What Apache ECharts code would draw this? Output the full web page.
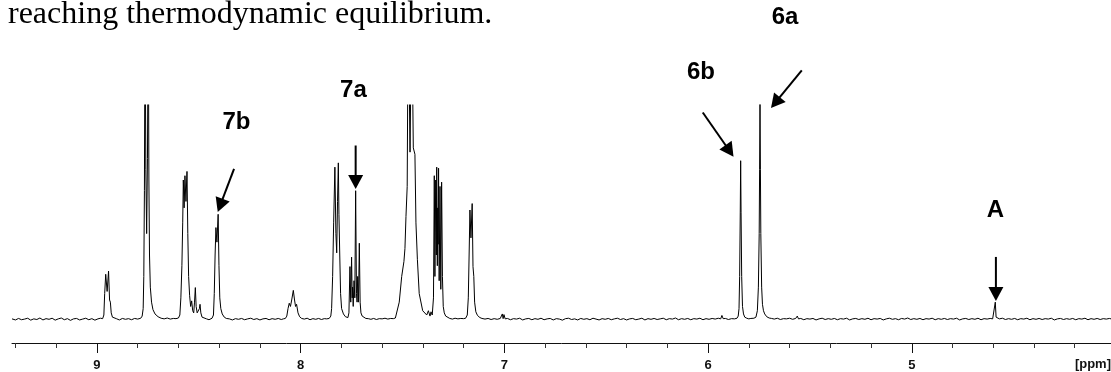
<!DOCTYPE html>
<html>
<head>
<meta charset="utf-8">
<script src="https://cdn.jsdelivr.net/npm/echarts@6/dist/echarts.min.js"></script>
<style>html,body{margin:0;padding:0;background:#fff;}#c{width:1111px;height:372px;}</style>
</head>
<body>
<div id="c"></div>
<script>
// ---- data: [ppm, intensity (% of plot height, baseline = 0)] ----
const base1 = [[9.417,0.2],[9.400,-0.3],[9.385,0.4],[9.370,-0.2],[9.355,0.1],[9.340,0.5],[9.325,-0.4],[9.310,0.2],[9.295,-0.1],[9.280,0.6],[9.265,-0.3],[9.250,0.3],[9.235,0.0],[9.220,0.5],[9.205,-0.4],[9.190,0.2],[9.175,0.6],[9.160,-0.2],[9.145,0.3],[9.130,-0.5],[9.115,0.2],[9.100,0.4],[9.085,-0.3],[9.070,0.1],[9.055,0.5],[9.040,-0.2],[9.025,0.3],[9.010,-0.4],[8.995,0.2],[8.983,0.5],[8.976,0.1]];
const peak894 = [[8.972,0.3],[8.966,2],[8.962,12],[8.957,21],[8.950,13],[8.943,22.5],[8.938,9],[8.934,8],[8.930,3],[8.924,1],[8.915,0.4]];
const base2 = [[8.905,0.3],[8.890,-0.3],[8.875,0.4],[8.860,0.0],[8.845,0.3],[8.830,-0.2],[8.815,0.4],[8.800,0.1],[8.792,0.4]];
const peak875 = [[8.785,0.5],[8.778,1.5],[8.773,5],[8.770,20],[8.767,60],[8.764,150],[8.760,70],[8.756,40],[8.752,75],[8.748,150],[8.745,65],[8.742,30],[8.738,15],[8.732,8],[8.725,4.5],[8.715,2.5],[8.700,1.2],[8.685,0.5]];
const base3 = [[8.670,0.2],[8.655,0.6],[8.640,0.1],[8.625,0.4],[8.612,0.3],[8.605,0.7]];
const peak856 = [[8.600,0.6],[8.593,2],[8.588,10],[8.583,25],[8.579,45],[8.576,65],[8.572,52],[8.568,67],[8.563,55],[8.558,69],[8.554,40],[8.550,20],[8.545,11],[8.540,6],[8.535,8.6],[8.530,4],[8.525,3],[8.521,8],[8.517,14.8],[8.513,6],[8.508,3],[8.503,2.5],[8.497,5],[8.494,7],[8.490,3],[8.484,1],[8.475,0.3]];
const base4 = [[8.462,0.2],[8.450,-0.2],[8.442,0.3]];
const peak841 = [[8.435,0.5],[8.428,2],[8.424,12],[8.420,30],[8.416,42.8],[8.411,36],[8.405,49],[8.401,25],[8.397,10],[8.392,5],[8.385,2.5],[8.375,1],[8.365,0.4]];
const base5 = [[8.350,0.2],[8.335,-0.3],[8.320,0.3],[8.305,0.0],[8.290,0.4],[8.275,-0.2],[8.260,0.2],[8.245,0.5],[8.230,-0.1],[8.215,0.3],[8.200,-0.3],[8.185,0.2],[8.170,0.4],[8.155,-0.2],[8.140,0.3],[8.125,0.0],[8.110,0.4],[8.095,-0.1],[8.085,0.2]];
const peak804 = [[8.075,0.4],[8.068,1.5],[8.062,5],[8.056,7.5],[8.050,6],[8.044,9],[8.036,13.5],[8.030,9],[8.025,6],[8.020,7],[8.013,3],[8.005,1.2],[7.995,0.4]];
const base6 = [[7.982,0.1],[7.968,0.5],[7.954,-0.2],[7.940,0.3],[7.926,0.0],[7.912,0.4],[7.898,-0.1],[7.884,0.3],[7.872,0.2]];
const peak782 = [[7.860,0.4],[7.852,1.5],[7.848,5],[7.843,20],[7.838,45],[7.832,71],[7.827,40],[7.823,31],[7.819,55],[7.815,73],[7.812,49],[7.808,30],[7.804,12],[7.799,5],[7.790,2.5],[7.780,1.2],[7.772,0.8]];
const peak773 = [[7.768,0.8],[7.763,3],[7.758,24.6],[7.754,8],[7.750,29],[7.747,10],[7.745,15],[7.742,6],[7.738,18],[7.734,10],[7.730,60],[7.726,12],[7.723,8],[7.720,20],[7.716,8],[7.712,35.5],[7.708,8],[7.704,3],[7.698,1.5],[7.690,0.8],[7.680,0.4]];
const base7 = [[7.668,0.3],[7.655,0.0],[7.642,0.4],[7.628,-0.1],[7.614,0.3],[7.600,0.2],[7.586,0.5],[7.572,0.1],[7.558,0.4],[7.545,0.3],[7.535,0.6]];
const peak746 = [[7.526,1],[7.516,8],[7.504,20],[7.493,27],[7.488,33],[7.483,48],[7.477,62],[7.472,150],[7.463,78],[7.455,150],[7.447,80],[7.439,77],[7.434,45],[7.427,28],[7.418,12],[7.401,4],[7.381,2],[7.373,4],[7.365,1.5],[7.360,3.5],[7.354,2]];
const peak733 = [[7.352,1.5],[7.348,10],[7.344,67],[7.341,20],[7.337,65],[7.334,30],[7.332,71],[7.329,25],[7.327,52],[7.325,35],[7.323,70.5],[7.320,18],[7.316,62],[7.312,14],[7.308,64],[7.304,20],[7.300,6],[7.295,3],[7.288,1.5],[7.280,0.8]];
const base8 = [[7.268,0.4],[7.255,0.1],[7.242,0.5],[7.228,0.2],[7.214,0.4],[7.200,0.3]];
const peak716 = [[7.190,0.5],[7.182,2],[7.177,10],[7.173,30],[7.169,51],[7.164,38],[7.158,54],[7.154,24.6],[7.150,20],[7.146,8],[7.140,3.5],[7.132,1.8],[7.120,0.8],[7.110,0.4]];
const base9 = [[7.095,0.1],[7.080,0.4],[7.065,-0.1],[7.050,0.3],[7.035,0.0],[7.020,0.4],[7.010,2.5],[7.006,0.3],[7.002,2.2],[6.996,0.2],[6.985,0.4],[6.970,-0.2],[6.955,0.3],[6.940,0.1],[6.925,0.5],[6.910,-0.3],[6.895,0.2],[6.880,0.4],[6.865,-0.2],[6.850,0.3],[6.835,0.0],[6.820,0.5],[6.805,-0.2],[6.790,0.2],[6.775,0.4],[6.760,-0.3],[6.745,0.3],[6.730,0.1],[6.715,-0.4],[6.700,0.3],[6.685,0.5],[6.670,-0.1],[6.655,0.2],[6.640,-0.3],[6.625,0.4],[6.610,0.0],[6.595,0.3],[6.580,-0.2],[6.565,0.5],[6.550,0.1],[6.535,-0.3],[6.520,0.3],[6.505,0.0],[6.490,0.4],[6.475,-0.2],[6.460,0.2],[6.445,0.5],[6.430,-0.1],[6.415,0.3],[6.400,-0.3],[6.385,0.2],[6.370,0.4],[6.355,-0.2],[6.340,0.1],[6.325,0.5],[6.310,-0.3],[6.295,0.3],[6.280,0.0],[6.265,0.4],[6.250,-0.1],[6.235,0.2],[6.220,0.5],[6.205,-0.2],[6.190,0.3],[6.175,0.1],[6.160,0.6],[6.145,-0.2],[6.130,0.3],[6.115,0.0],[6.100,0.4],[6.085,-0.2],[6.070,0.3],[6.055,0.1],[6.040,0.5],[6.025,-0.2],[6.010,0.3],[5.995,0.0],[5.980,0.4],[5.965,0.1],[5.950,0.5],[5.938,0.2],[5.932,1.8],[5.926,0.3],[5.915,0.4],[5.900,-0.1],[5.885,0.3],[5.870,0.2]];
const peak584 = [[5.858,0.5],[5.852,1.5],[5.848,5],[5.845,20],[5.842,50],[5.840,74],[5.838,50],[5.835,20],[5.831,6],[5.826,2.5],[5.820,1]];
const base10 = [[5.810,0.5],[5.800,0.2],[5.790,0.4],[5.782,0.3]];
const peak575 = [[5.775,0.5],[5.765,1],[5.758,4],[5.753,15],[5.749,40],[5.747,70],[5.745,101],[5.743,70],[5.741,40],[5.737,15],[5.733,7],[5.728,4],[5.722,2.5],[5.712,1.2],[5.700,0.6]];
const base11 = [[5.688,0.4],[5.675,0.1],[5.660,0.5],[5.645,-0.1],[5.630,0.3],[5.615,0.2],[5.600,0.5],[5.585,0.0],[5.570,0.4],[5.562,1.5],[5.556,0.2],[5.545,0.4],[5.530,-0.2],[5.515,0.3],[5.500,0.1],[5.485,0.4],[5.470,-0.3],[5.455,0.2],[5.440,0.5],[5.425,-0.1],[5.410,0.3],[5.395,0.0],[5.380,0.4],[5.365,-0.2],[5.350,0.3],[5.335,0.1],[5.320,0.5],[5.305,-0.3],[5.290,0.2],[5.275,0.4],[5.260,-0.1],[5.245,0.3],[5.230,0.0],[5.215,0.5],[5.200,-0.2],[5.185,0.3],[5.170,0.1],[5.155,0.4],[5.140,-0.3],[5.125,0.2],[5.110,0.5],[5.095,0.0],[5.080,0.3],[5.065,-0.2],[5.050,0.4],[5.035,0.1],[5.020,0.6],[5.005,-0.1],[4.990,0.3],[4.975,0.0],[4.960,0.4],[4.945,-0.2],[4.930,0.3],[4.915,0.1],[4.900,0.5],[4.885,-0.2],[4.870,0.3],[4.855,0.0],[4.840,0.4],[4.825,-0.1],[4.810,0.3],[4.795,0.1],[4.780,0.5],[4.765,-0.3],[4.750,0.2],[4.735,0.4],[4.720,-0.1],[4.705,0.3],[4.690,0.0],[4.675,0.5],[4.660,-0.2],[4.645,0.3],[4.630,0.1],[4.615,0.4],[4.603,0.2]];
const peakA = [[4.595,0.5],[4.590,8],[4.586,1],[4.580,0.6]];
const base12 = [[4.570,0.2],[4.555,0.5],[4.540,-0.1],[4.525,0.3],[4.510,0.0],[4.495,0.4],[4.480,-0.2],[4.465,0.3],[4.450,0.1],[4.435,0.5],[4.420,-0.2],[4.405,0.3],[4.390,0.0],[4.375,0.4],[4.360,-0.1],[4.345,0.3],[4.330,0.1],[4.315,0.5],[4.300,-0.3],[4.285,0.2],[4.270,0.4],[4.255,-0.1],[4.240,0.3],[4.225,0.0],[4.210,0.4],[4.195,-0.2],[4.180,0.3],[4.165,0.1],[4.150,0.5],[4.135,-0.2],[4.120,0.3],[4.105,0.0],[4.090,0.4],[4.075,-0.1],[4.060,0.3],[4.045,0.1],[4.030,0.4],[4.022,0.2]];

// axis ticks
const majorTicks = [5, 6, 7, 8, 9];
const minorTicks = [4.2,4.4,4.6,4.8,5.2,5.4,5.6,5.8,6.2,6.4,6.6,6.8,7.2,7.4,7.6,7.8,8.2,8.4,8.6,8.8,9.2,9.4];
const axisUnit = '[ppm]';
const titleText = 'reaching thermodynamic equilibrium.';

// annotations: label text + label anchor [ppm, intensity]
const labelNames = ['7b', '7a', '6b', '6a', 'A'];
const labelAnchors = [[8.315, 91.7], [7.741, 106.7], [6.035, 115.1], [5.622, 140.8], [4.589, 50.8]];
// arrows: [tail ppm, tail intensity, tip ppm, tip intensity]
const arrows = [[8.327, 70.2, 8.407, 50.1], [7.730, 81.1, 7.730, 60.8], [6.026, 96.5, 5.875, 75.9], [5.540, 116.2, 5.691, 98.6], [4.587, 29.1, 4.587, 8.5]];

const spectrum = [].concat(base1, peak894, base2, peak875, base3, peak856, base4, peak841, base5, peak804, base6, peak782, peak773, base7, peak746, peak733, base8, peak716, base9, peak584, base10, peak575, base11, peakA, base12).sort((a, b) => b[0] - a[0]);

const PPM_MIN = 4.022, PPM_MAX = 9.417;
const chart = echarts.init(document.getElementById('c'), null, {renderer: 'canvas'});
const LBL_FONT = 'bold 13px "Liberation Sans", Arial, sans-serif';

chart.setOption({
  animation: false,
  backgroundColor: '#fff',
  grid: {left: 12, right: 0, top: 105, bottom: 29, containLabel: false},
  xAxis: [{
    type: 'value', inverse: true, min: PPM_MIN, max: PPM_MAX, position: 'bottom',
    axisLine: {show: true, onZero: false, lineStyle: {color: '#111', width: 1}},
    axisTick: {show: true, length: 10, customValues: majorTicks, lineStyle: {color: '#111', width: 1}},
    axisLabel: {show: true, customValues: majorTicks, margin: 16, color: '#111', fontWeight: 'bold', fontSize: 13, fontFamily: '"Liberation Sans", Arial, sans-serif', formatter: v => String(Math.round(v))},
    splitLine: {show: false}
  }, {
    type: 'value', inverse: true, min: PPM_MIN, max: PPM_MAX, position: 'bottom', gridIndex: 0,
    axisLine: {show: false, onZero: false},
    axisTick: {show: true, length: 5, customValues: minorTicks, lineStyle: {color: '#333', width: 1}},
    axisLabel: {show: false},
    splitLine: {show: false}
  }],
  yAxis: {type: 'value', min: -11.06, max: 100, show: false, splitLine: {show: false}},
  series: [{
    type: 'line', data: spectrum, xAxisIndex: 0, showSymbol: false, symbol: 'none', clip: true,
    sampling: null, lineStyle: {color: '#000', width: 1}, z: 2
  }, {
    type: 'custom', xAxisIndex: 0, clip: false, z: 3,
    data: arrows,
    encode: {x: [0, 2], y: [1, 3]},
    renderItem: function (params, api) {
      const p1 = api.coord([api.value(0), api.value(1)]);
      const p2 = api.coord([api.value(2), api.value(3)]);
      const dx = p2[0] - p1[0], dy = p2[1] - p1[1];
      const len = Math.sqrt(dx * dx + dy * dy);
      const ux = dx / len, uy = dy / len;
      const hl = 14, hw = 7.5;
      const bx = p2[0] - ux * hl, by = p2[1] - uy * hl;
      return {
        type: 'group', children: [
          {type: 'line', shape: {x1: p1[0], y1: p1[1], x2: bx + ux * 2, y2: by + uy * 2}, style: {stroke: '#000', lineWidth: 2}},
          {type: 'polygon', shape: {points: [[p2[0], p2[1]], [bx - uy * hw, by + ux * hw], [bx + uy * hw, by - ux * hw]]}, style: {fill: '#000'}}
        ]
      };
    }
  }, {
    type: 'custom', xAxisIndex: 0, clip: false, z: 3,
    data: labelAnchors.map((a, i) => [a[0], a[1], i]),
    encode: {x: 0, y: 1},
    renderItem: function (params, api) {
      const p = api.coord([api.value(0), api.value(1)]);
      return {type: 'text', x: p[0], y: p[1], style: {text: labelNames[api.value(2)], fill: '#000', font: 'bold 24px "Liberation Sans", Arial, sans-serif', align: 'center', verticalAlign: 'middle'}};
    }
  }],
  graphic: [
    {type: 'text', left: 8, top: -1, style: {text: titleText, fill: '#000', font: '32px "Liberation Serif", "Times New Roman", serif'}},
    {type: 'text', right: 0, bottom: 1, style: {text: axisUnit, fill: '#111', font: LBL_FONT}}
  ]
});
</script>
</body>
</html>
